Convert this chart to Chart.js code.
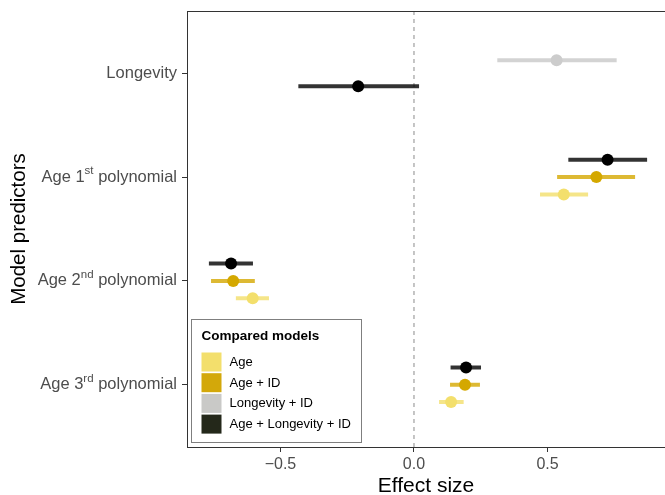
<!DOCTYPE html>
<html>
<head>
<meta charset="utf-8">
<script src="https://cdn.jsdelivr.net/npm/chart.js@4.4.0/dist/chart.umd.min.js"></script>
<style>
  body { margin: 0; background: #fff; }
  canvas { display: block; }
</style>
</head>
<body>
<canvas id="forestChart" width="665" height="495"></canvas>
<script>
// predictors, top to bottom
const categories = ['Longevity', 'Age 1st polynomial', 'Age 2nd polynomial', 'Age 3rd polynomial'];
const models = ['Age', 'Age + ID', 'Longevity + ID', 'Age + Longevity + ID'];
const xTicks = [-0.5, 0, 0.5];

// estimates and interval ends per model (null = predictor not in model)
const ageEst = [null, 0.561, -0.604, 0.139];
const ageLow = [null, 0.472, -0.667, 0.094];
const ageHigh = [null, 0.652, -0.543, 0.186];

const ageIdEst = [null, 0.683, -0.677, 0.191];
const ageIdLow = [null, 0.536, -0.760, 0.135];
const ageIdHigh = [null, 0.828, -0.596, 0.247];

const longIdEst = [0.534, null, null, null];
const longIdLow = [0.312, null, null, null];
const longIdHigh = [0.759, null, null, null];

const fullEst = [-0.209, 0.725, -0.685, 0.195];
const fullLow = [-0.433, 0.578, -0.768, 0.137];
const fullHigh = [0.019, 0.873, -0.603, 0.251];

const estimates = [ageEst, ageIdEst, longIdEst, fullEst];
const lows = [ageLow, ageIdLow, longIdLow, fullLow];
const highs = [ageHigh, ageIdHigh, longIdHigh, fullHigh];

// colours
const pointColors = ['#F3DF6C', '#D4A800', '#CCCCCC', '#000000'];
const barColors = ['rgba(243,223,108,0.8)', 'rgba(212,168,0,0.8)', 'rgba(200,200,200,0.8)', 'rgba(0,0,0,0.8)'];
const keyColors = ['#F3DF6C', '#D3A80A', '#C9C9C7', '#24281A'];

// dodge order inside a predictor, top to bottom
const dodgeOrder = [2, 3, 1, 0];
const dodgeWidth = 0.5;

function yFor(m, c) {
    const present = dodgeOrder.filter(k => estimates[k][c] !== null);
    const n = present.length;
    const i = present.indexOf(m);
    return c + 1 + (i - (n - 1) / 2) * dodgeWidth / n;
}

const FONT = "'Liberation Sans', Arial, sans-serif";
const datasets = [];

// zero reference line
datasets.push({
    data: [{ x: 0, y: 0.4 }, { x: 0, y: 4.6 }],
    showLine: true,
    borderColor: '#8C8C8C',
    borderWidth: 1,
    borderDash: [4, 4],
    pointRadius: 0,
    order: 3
});

models.forEach((name, m) => {
    const segs = [];
    const pts = [];
    categories.forEach((cat, c) => {
        if (estimates[m][c] === null) return;
        const y = yFor(m, c);
        segs.push({ x: lows[m][c], y: y }, { x: highs[m][c], y: y }, { x: null, y: null });
        pts.push({ x: estimates[m][c], y: y });
    });
    datasets.push({
        label: name + ' interval',
        data: segs,
        showLine: true,
        spanGaps: false,
        borderColor: barColors[m],
        borderWidth: 4,
        borderCapStyle: 'butt',
        pointRadius: 0,
        order: 2
    });
    datasets.push({
        label: name,
        data: pts,
        pointRadius: 6,
        pointBorderWidth: 0,
        backgroundColor: pointColors[m],
        pointBackgroundColor: pointColors[m],
        order: 1
    });
});

// y tick labels with superscript ordinals, top frame line and legend box
const extrasPlugin = {
    id: 'extras',
    afterDraw(chart) {
        const ctx = chart.ctx;
        const area = chart.chartArea;
        const yScale = chart.scales.y;

        ctx.save();
        ctx.strokeStyle = '#333333';
        ctx.lineWidth = 1;
        ctx.beginPath();
        ctx.moveTo(area.left, area.top + 0.5);
        ctx.lineTo(area.right, area.top + 0.5);
        ctx.stroke();

        ctx.fillStyle = '#4D4D4D';
        ctx.textBaseline = 'middle';
        const right = area.left - 10;
        categories.forEach((cat, c) => {
            const y = yScale.getPixelForValue(c + 1);
            const m = cat.match(/^(.*\d)(st|nd|rd|th)(.*)$/);
            let parts = m ? [[m[1], 16.5, 0], [m[2], 11.5, -6], [m[3], 16.5, 0]] : [[cat, 16.5, 0]];
            let total = 0;
            parts.forEach(p => {
                ctx.font = p[1] + 'px ' + FONT;
                total += ctx.measureText(p[0]).width;
            });
            let x = right - total;
            ctx.textAlign = 'left';
            parts.forEach(p => {
                ctx.font = p[1] + 'px ' + FONT;
                ctx.fillText(p[0], x, y + p[2]);
                x += ctx.measureText(p[0]).width;
            });
        });

        // legend
        const bx = area.left + 4.5;
        const by = area.bottom - 127.5;
        const bw = 170;
        const bh = 123;
        ctx.fillStyle = '#FFFFFF';
        ctx.fillRect(bx, by, bw, bh);
        ctx.strokeStyle = '#7F7F7F';
        ctx.lineWidth = 1;
        ctx.strokeRect(bx, by, bw, bh);

        ctx.fillStyle = '#000000';
        ctx.font = 'bold 13.5px ' + FONT;
        ctx.textAlign = 'left';
        ctx.fillText('Compared models', bx + 10, by + 17);

        ctx.font = '13px ' + FONT;
        models.forEach((name, m) => {
            const ry = by + 33 + m * 20.7;
            ctx.fillStyle = keyColors[m];
            ctx.fillRect(bx + 10, ry, 20, 19);
            ctx.fillStyle = '#000000';
            ctx.fillText(name, bx + 38, ry + 10);
        });
        ctx.restore();
    }
};

const axisGrid = {
    drawOnChartArea: false,
    drawTicks: true,
    tickLength: 5,
    tickWidth: 1,
    color: '#333333'
};

new Chart(document.getElementById('forestChart').getContext('2d'), {
    type: 'scatter',
    data: { datasets: datasets },
    options: {
        responsive: false,
        animation: false,
        layout: { autoPadding: false, padding: { top: 11, right: 0, left: 0, bottom: 0 } },
        plugins: {
            legend: { display: false },
            tooltip: { enabled: false }
        },
        scales: {
            x: {
                type: 'linear',
                min: -0.85,
                max: 0.94,
                afterBuildTicks: (s) => { s.ticks = xTicks.map(v => ({ value: v })); },
                afterFit: (s) => { s.height = 48; },
                ticks: {
                    color: '#4D4D4D',
                    font: { family: FONT, size: 16 },
                    padding: 3,
                    callback: (v) => (v < 0 ? '\u2212' + Math.abs(v).toFixed(1) : v.toFixed(1))
                },
                grid: axisGrid,
                border: { display: true, color: '#333333', width: 1 },
                title: {
                    display: true,
                    text: 'Effect size',
                    color: '#000000',
                    font: { family: FONT, size: 21, lineHeight: 0.8 },
                    padding: { top: 0, bottom: 0 }
                }
            },
            y: {
                type: 'linear',
                reverse: true,
                min: 0.4,
                max: 4.6,
                afterBuildTicks: (s) => { s.ticks = categories.map((c, i) => ({ value: i + 1 })); },
                afterFit: (s) => { s.width = 187; },
                ticks: { display: false },
                grid: axisGrid,
                border: { display: true, color: '#333333', width: 1 },
                title: {
                    display: true,
                    text: 'Model predictors',
                    color: '#000000',
                    font: { family: FONT, size: 20.5, lineHeight: 1 },
                    padding: { top: 9, bottom: 0 }
                }
            }
        }
    },
    plugins: [extrasPlugin]
});
</script>
</body>
</html>
